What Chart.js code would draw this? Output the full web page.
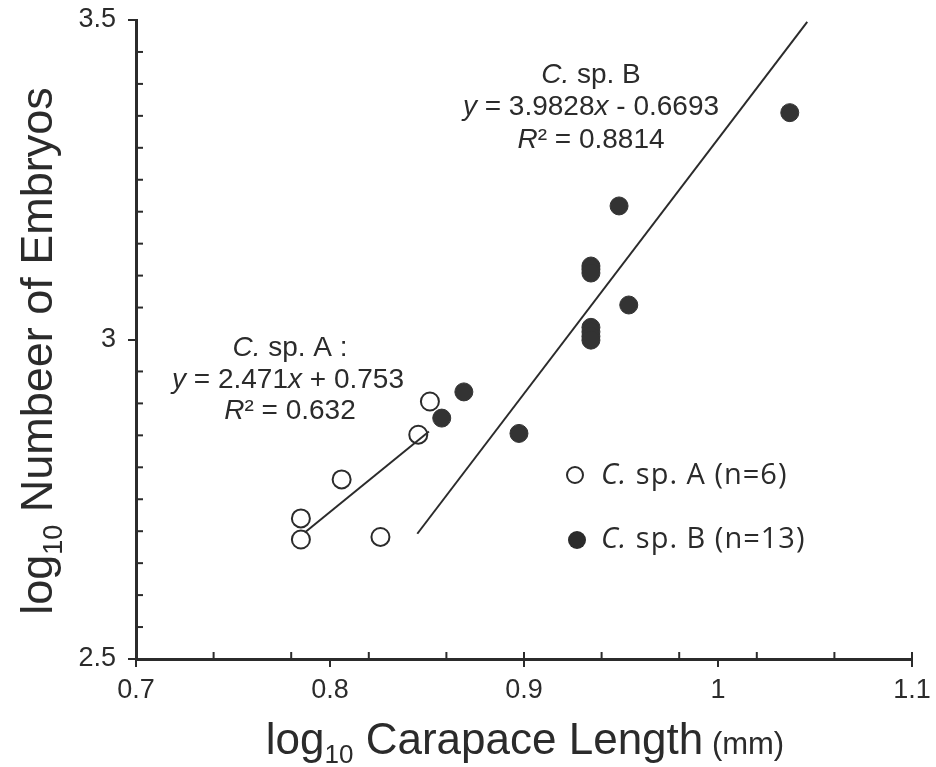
<!DOCTYPE html>
<html>
<head>
<meta charset="utf-8">
<script src="https://cdn.jsdelivr.net/npm/chart.js@4.4.1/dist/chart.umd.min.js"></script>
<style>
  html, body { margin: 0; padding: 0; background: #fff; }
  #wrap { width: 936px; height: 767px; }
</style>
</head>
<body>
<div id="wrap"><canvas id="chart"></canvas></div>
<script>
// axis ticks
const xTicks = [0.7, 0.8, 0.9, 1.0, 1.1];
const yTicks = [2.5, 3.0, 3.5];

// C. sp. A (open circles)
const spA_x = [0.785, 0.785, 0.806, 0.826, 0.8455, 0.8515];
const spA_y = [2.687, 2.720, 2.781, 2.691, 2.851, 2.903];

// C. sp. B (filled circles) - some points overlap at x ~ 0.9345
const spB_x = [1.037, 0.949, 0.9345, 0.9345, 0.9345, 0.954, 0.9345, 0.9345, 0.9345, 0.9345, 0.869, 0.8576, 0.8974];
const spB_y = [3.355, 3.209, 3.115, 3.110, 3.104, 3.054, 3.019, 3.012, 3.005, 2.999, 2.918, 2.877, 2.853];

// trend line end points
const trendA_x = [0.787, 0.851];
const trendA_y = [2.698, 2.856];
const trendB_x = [0.845, 1.046];
const trendB_y = [2.696, 3.497];

const toPts = (xs, ys) => xs.map((x, i) => ({ x: x, y: ys[i] }));

const INK = '#2b2b2b';
const SANS = '"Liberation Sans", Arial, sans-serif';

// draws a line of text made of [text, italic] pieces, centered on cx
function drawRich(ctx, parts, cx, cy, size) {
    let total = 0;
    parts.forEach(p => {
        ctx.font = (p[1] ? 'italic ' : '') + size + 'px ' + SANS;
        total += ctx.measureText(p[0]).width;
    });
    let x = cx - total / 2;
    parts.forEach(p => {
        ctx.font = (p[1] ? 'italic ' : '') + size + 'px ' + SANS;
        ctx.fillText(p[0], x, cy);
        x += ctx.measureText(p[0]).width;
    });
}

// "log10 ..." title with subscript, centered at 0,0 of current transform
function drawLogTitle(ctx, rest, size, tail, tailSize) {
    const big = size + 'px ' + SANS;
    const sub = Math.round(size * 0.6) + 'px ' + SANS;
    const small = tailSize + 'px ' + SANS;
    ctx.font = big;
    const wLog = ctx.measureText('log').width;
    const wRest = ctx.measureText(rest).width;
    ctx.font = sub;
    const wSub = ctx.measureText('10').width;
    ctx.font = small;
    const wTail = tail ? ctx.measureText(tail).width : 0;
    let x = -(wLog + wSub + wRest + wTail) / 2;
    ctx.textBaseline = 'middle';
    ctx.font = big;
    ctx.fillText('log', x, 0);
    x += wLog;
    ctx.font = sub;
    ctx.fillText('10', x, size * 0.32);
    x += wSub;
    ctx.font = big;
    ctx.fillText(rest, x, 0);
    x += wRest;
    if (tail) {
        ctx.font = small;
        ctx.fillText(tail, x, 3);
    }
}

const decorations = {
    id: 'decorations',
    afterDraw(chart) {
        const ctx = chart.ctx;
        const xs = chart.scales.x;
        const ys = chart.scales.y;
        const area = chart.chartArea;

        ctx.save();
        ctx.strokeStyle = INK;
        ctx.lineWidth = 2;
        // minor ticks pointing into the plot
        for (let k = 1; k < 20; k++) {
            if (k % 10 === 0) continue;
            const py = ys.getPixelForValue(2.5 + k * 0.05);
            ctx.beginPath();
            ctx.moveTo(area.left, py);
            ctx.lineTo(area.left + 7, py);
            ctx.stroke();
        }
        for (let k = 1; k <= 10; k++) {
            const px = xs.getPixelForValue(0.7 + k * 0.04);
            ctx.beginPath();
            ctx.moveTo(px, area.bottom);
            ctx.lineTo(px, area.bottom - 7);
            ctx.stroke();
        }

        ctx.fillStyle = INK;
        ctx.textBaseline = 'middle';

        // equations
        drawRich(ctx, [['C.', true], [' sp. B', false]], 591, 75, 28);
        drawRich(ctx, [['y', true], [' = 3.9828', false], ['x', true], [' - 0.6693', false]], 591, 107, 28);
        drawRich(ctx, [['R', true], ['² = 0.8814', false]], 591, 140, 28);

        drawRich(ctx, [['C.', true], [' sp. A :', false]], 290, 348, 28);
        drawRich(ctx, [['y', true], [' = 2.471', false], ['x', true], [' + 0.753', false]], 288, 380, 28);
        drawRich(ctx, [['R', true], ['² = 0.632', false]], 290, 411, 28);

        // legend
        ctx.lineWidth = 2;
        ctx.beginPath();
        ctx.arc(575, 475, 8, 0, Math.PI * 2);
        ctx.fillStyle = '#fff';
        ctx.fill();
        ctx.stroke();
        ctx.beginPath();
        ctx.arc(577, 540, 9, 0, Math.PI * 2);
        ctx.fillStyle = INK;
        ctx.fill();

        const LEG = '"Open Sans", Lato, sans-serif';
        ctx.letterSpacing = '1px';
        [['C.', ' sp. A (n=6)', 476], ['C.', ' sp. B (n=13)', 540]].forEach(row => {
            let x = 601;
            ctx.font = 'italic 29px ' + LEG;
            ctx.fillText(row[0], x, row[2]);
            x += ctx.measureText(row[0]).width;
            ctx.font = '29px ' + LEG;
            ctx.fillText(row[1], x, row[2]);
        });
        ctx.letterSpacing = '0px';

        // axis titles
        ctx.save();
        ctx.translate(40, 351);
        ctx.rotate(-Math.PI / 2);
        drawLogTitle(ctx, ' Numbeer of Embryos', 45, '', 0);
        ctx.restore();

        ctx.save();
        ctx.translate(525, 742);
        drawLogTitle(ctx, ' Carapace Length', 44, ' (mm)', 31);
        ctx.restore();

        ctx.restore();
    }
};

const fmt = v => String(+Number(v).toFixed(2));

new Chart(document.getElementById('chart'), {
    type: 'scatter',
    data: {
        datasets: [
            {
                label: 'C. sp. A trend',
                type: 'line',
                data: toPts(trendA_x, trendA_y),
                borderColor: INK,
                borderWidth: 2,
                pointRadius: 0,
                fill: false,
                order: 0
            },
            {
                label: 'C. sp. B trend',
                type: 'line',
                data: toPts(trendB_x, trendB_y),
                borderColor: INK,
                borderWidth: 2,
                pointRadius: 0,
                fill: false,
                order: 0
            },
            {
                label: 'C. sp. A (n=6)',
                data: toPts(spA_x, spA_y),
                pointRadius: 9,
                pointBackgroundColor: '#fff',
                pointBorderColor: INK,
                pointBorderWidth: 2,
                order: 1
            },
            {
                label: 'C. sp. B (n=13)',
                data: toPts(spB_x, spB_y),
                pointRadius: 9,
                pointBackgroundColor: '#333',
                pointBorderColor: '#333',
                pointBorderWidth: 1,
                order: 1
            }
        ]
    },
    options: {
        responsive: true,
        maintainAspectRatio: false,
        animation: false,
        layout: { padding: { top: 20, right: 24, left: 0, bottom: 0 } },
        plugins: {
            legend: { display: false },
            tooltip: { enabled: false }
        },
        scales: {
            x: {
                type: 'linear',
                min: 0.7,
                max: 1.1,
                afterBuildTicks: s => { s.ticks = xTicks.map(v => ({ value: v })); },
                afterFit: s => {
                    s.height = 108;
                    s.paddingLeft = 0;
                    s.paddingRight = 0;
                },
                ticks: {
                    callback: fmt,
                    color: INK,
                    font: { family: SANS, size: 27 },
                    padding: 7,
                    maxRotation: 0
                },
                grid: { drawOnChartArea: false, drawTicks: true, tickLength: 8, color: INK, lineWidth: 2 },
                border: { color: INK, width: 3 }
            },
            y: {
                type: 'linear',
                min: 2.5,
                max: 3.5,
                afterBuildTicks: s => { s.ticks = yTicks.map(v => ({ value: v })); },
                afterFit: s => {
                    s.width = 136;
                    s.paddingTop = 0;
                    s.paddingBottom = 0;
                },
                ticks: {
                    callback: fmt,
                    color: INK,
                    font: { family: SANS, size: 27 },
                    padding: 12
                },
                grid: { drawOnChartArea: false, drawTicks: true, tickLength: 8, color: INK, lineWidth: 2 },
                border: { color: INK, width: 3 }
            }
        }
    },
    plugins: [decorations]
});
</script>
</body>
</html>
